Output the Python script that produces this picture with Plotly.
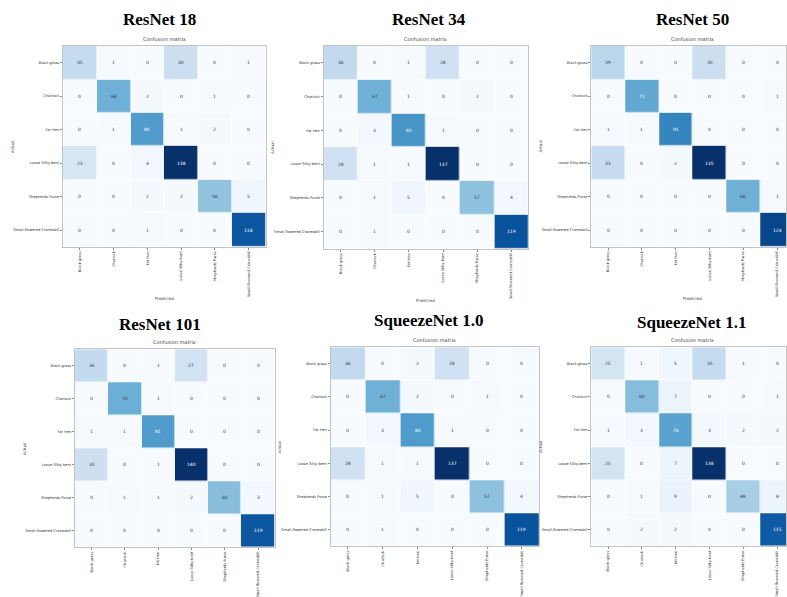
import plotly.graph_objects as go

W, H = 787, 597

classes = ["Black-grass", "Charlock", "Fat Hen", "Loose Silky-bent",
           "Shepherds Purse", "Small-flowered Cranesbill"]

model_names = ["ResNet 18", "ResNet 34", "ResNet 50",
               "ResNet 101", "SqueezeNet 1.0", "SqueezeNet 1.1"]

resnet18 = [[35, 1, 0, 30, 0, 1],
            [0, 68, 2, 0, 1, 0],
            [0, 1, 80, 1, 2, 0],
            [23, 0, 4, 138, 0, 0],
            [0, 0, 2, 2, 56, 5],
            [0, 0, 1, 0, 0, 118]]
resnet34 = [[36, 0, 1, 28, 0, 0],
            [0, 67, 1, 0, 2, 0],
            [0, 3, 83, 1, 0, 0],
            [28, 1, 1, 137, 0, 0],
            [0, 1, 5, 0, 57, 4],
            [0, 1, 0, 0, 0, 119]]
resnet50 = [[39, 0, 0, 30, 0, 0],
            [0, 71, 0, 0, 0, 1],
            [1, 1, 91, 0, 0, 0],
            [33, 0, 2, 135, 0, 0],
            [0, 0, 0, 0, 66, 1],
            [0, 0, 0, 0, 0, 124]]
resnet101 = [[36, 0, 1, 27, 0, 0],
             [0, 70, 1, 0, 0, 0],
             [1, 1, 81, 0, 0, 0],
             [30, 0, 1, 140, 0, 0],
             [0, 1, 1, 2, 60, 3],
             [0, 0, 0, 0, 0, 119]]
squeeze10 = [[36, 0, 2, 28, 0, 0],
             [0, 67, 2, 0, 1, 0],
             [0, 3, 80, 1, 0, 0],
             [28, 1, 1, 137, 0, 0],
             [0, 1, 5, 0, 57, 4],
             [0, 1, 0, 0, 0, 119]]
squeeze11 = [[25, 1, 5, 35, 1, 0],
             [0, 60, 7, 0, 0, 1],
             [1, 3, 76, 3, 2, 2],
             [25, 0, 7, 138, 0, 0],
             [0, 1, 9, 0, 48, 8],
             [0, 2, 2, 0, 0, 115]]

matrices = [resnet18, resnet34, resnet50, resnet101, squeeze10, squeeze11]

# panel boxes in pixels: (x0, x1, y0, y1)
boxes = [(63, 266, 46, 248), (324, 529, 46, 250), (592, 795, 46, 248),
         (75, 275, 351, 550), (331, 540, 349, 549), (592, 795, 349, 549)]
title_pos = [(160, 20), (430, 20), (693, 20), (160, 326), (430, 322), (693, 324)]

blues = ["rgb(247,251,255)", "rgb(222,235,247)", "rgb(198,219,239)",
         "rgb(158,202,225)", "rgb(107,174,214)", "rgb(66,146,198)",
         "rgb(33,113,181)", "rgb(8,81,156)", "rgb(8,48,107)"]
cscale = [[i / 8, c] for i, c in enumerate(blues)]

fig = go.Figure()
annotations = []
layout_axes = {}

for k, (m, name, box, tp) in enumerate(zip(matrices, model_names, boxes, title_pos)):
    x0, x1, y0, y1 = box
    n = len(classes)
    cell = (x1 - x0) / n
    vis_x1 = min(x1, W)
    xr_end = -0.5 + (vis_x1 - x0) / cell
    xa = "x" if k == 0 else f"x{k+1}"
    ya = "y" if k == 0 else f"y{k+1}"
    zmax = max(max(r) for r in m)
    fig.add_trace(go.Heatmap(
        z=m, x=list(range(n)), y=list(range(n)), xaxis=xa, yaxis=ya,
        colorscale=cscale, zmin=0, zmax=zmax, showscale=False,
        xgap=0.6, ygap=0.6, hoverinfo="skip"))
    for i, row in enumerate(m):
        for j, v in enumerate(row):
            annotations.append(dict(text=str(v), x=j, y=i, xref=xa, yref=ya,
                                    showarrow=False,
                                    font=dict(size=4.5, family="DejaVu Sans",
                                              color="white" if v > zmax / 2 else "#3a3a3a")))
    axis_common = dict(showline=True, mirror=True, linecolor="#c4c4c4", linewidth=1,
                       showgrid=False, zeroline=False, ticks="outside", ticklen=2,
                       tickcolor="#888", tickmode="array", tickvals=list(range(n)),
                       ticktext=classes,
                       tickfont=dict(size=3.6, family="DejaVu Sans", color="#333"))
    layout_axes["xaxis" if k == 0 else f"xaxis{k+1}"] = dict(
        domain=[x0 / W, vis_x1 / W], anchor=ya, tickangle=-90,
        ticklabeloverflow="allow",
        range=[-0.5, xr_end], **axis_common)
    layout_axes["yaxis" if k == 0 else f"yaxis{k+1}"] = dict(
        domain=[1 - y1 / H, 1 - y0 / H], anchor=xa, range=[n - 0.5, -0.5],
        **axis_common)
    annotations.append(dict(text=f"<b>{name}</b>", x=tp[0] / W, y=1 - tp[1] / H,
                            xref="paper", yref="paper", showarrow=False,
                            xanchor="center", yanchor="middle",
                            font=dict(family="Liberation Serif", size=17, color="black")))
    annotations.append(dict(text="Confusion matrix", x=((x0 + x1) / 2) / W, y=1 - (y0 - 2) / H,
                            xref="paper", yref="paper", showarrow=False,
                            xanchor="center", yanchor="bottom",
                            font=dict(family="DejaVu Sans", size=5, color="#444")))
    annotations.append(dict(text="Actual", x=(x0 - 51) / W, y=1 - ((y0 + y1) / 2) / H,
                            xref="paper", yref="paper", showarrow=False, textangle=-90,
                            xanchor="center", yanchor="middle",
                            font=dict(family="DejaVu Sans", size=4, color="#444")))
    if y1 + 52 < H:
        annotations.append(dict(text="Predicted", x=((x0 + x1) / 2) / W, y=1 - (y1 + 52) / H,
                                xref="paper", yref="paper", showarrow=False,
                                xanchor="center", yanchor="middle",
                                font=dict(family="DejaVu Sans", size=4, color="#444")))

fig.update_layout(width=W, height=H, margin=dict(l=0, r=0, t=0, b=0),
                  paper_bgcolor="white", plot_bgcolor="white",
                  annotations=annotations, **layout_axes)

fig.write_html("out.html", config={"displayModeBar": False},
               post_script="document.body.style.margin='0';document.body.style.overflow='hidden';")
